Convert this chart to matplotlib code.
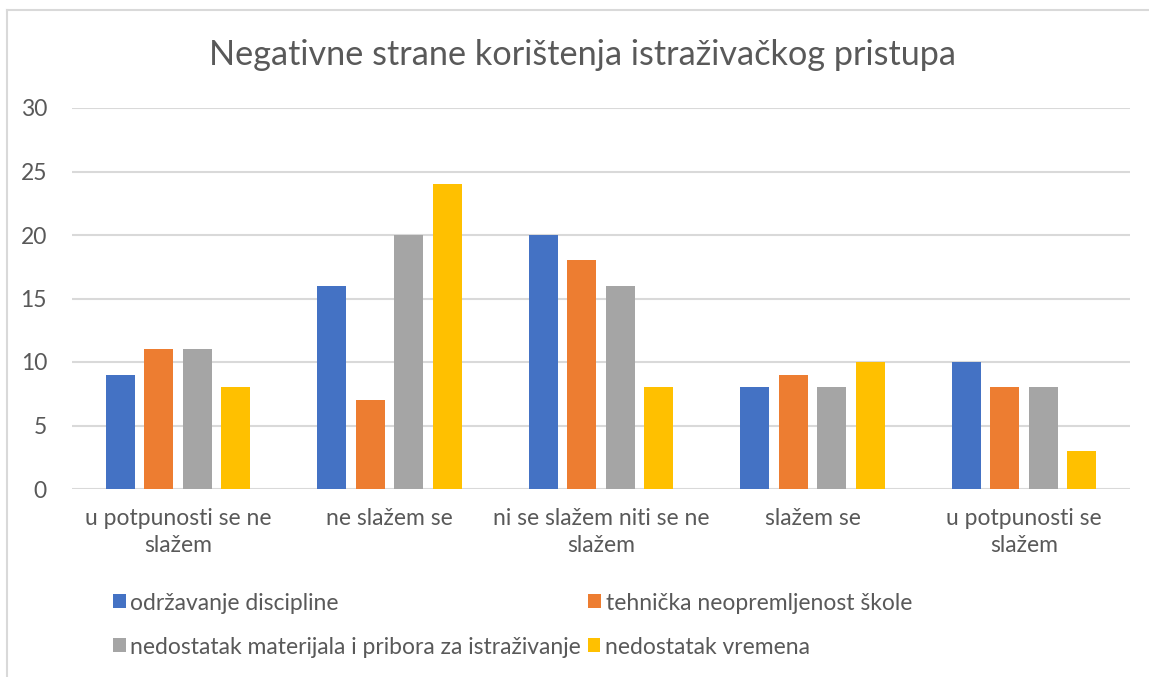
import matplotlib
matplotlib.use("Agg")
import matplotlib.pyplot as plt
from matplotlib.lines import Line2D
import numpy as np

plt.rcParams['font.family'] = ['Lato', 'DejaVu Sans']

# data
categories = ["u potpunosti se ne\nslažem", "ne slažem se",
              "ni se slažem niti se ne\nslažem", "slažem se",
              "u potpunosti se\nslažem"]
series_names = ["održavanje discipline", "tehnička neopremljenost škole",
                "nedostatak materijala i pribora za istraživanje", "nedostatak vremena"]
discipline = [9, 16, 20, 8, 10]
oprema = [11, 7, 18, 9, 8]
materijal = [11, 20, 16, 8, 8]
vrijeme = [8, 24, 8, 10, 3]
yticks = [0, 5, 10, 15, 20, 25, 30]

colors = ["#4472C4", "#ED7D31", "#A5A5A5", "#FFC000"]
text_col = "#595959"
grid_col = "#D9D9D9"
fs = 16.5

fig = plt.figure(figsize=(11.49, 6.77), dpi=100)
ax = fig.add_axes([72/1149, 1-489/677, (1130-72)/1149, (489-108)/677])

x = np.arange(len(categories))
step = 0.182  # distance between bars in a group
width = 0.137
bars = []
for i, vals in enumerate([discipline, oprema, materijal, vrijeme]):
    b = ax.bar(x + (i - 1.5) * step, vals, width, color=colors[i],
               label=series_names[i], zorder=3)
    bars.append(b)

ax.set_xlim(-0.5, len(categories) - 0.5)
ax.set_ylim(0, 30)
ax.set_yticks(yticks)
ax.yaxis.grid(True, color=grid_col, linewidth=1.5, zorder=0)
ax.set_axisbelow(True)
for s in ["top", "right", "left", "bottom"]:
    ax.spines[s].set_visible(False)
ax.tick_params(axis='both', length=0, labelsize=fs, colors=text_col)
ax.tick_params(axis='y', pad=18)
ax.tick_params(axis='x', pad=14)
ax.set_xticks(x)
ax.set_xticklabels(categories, linespacing=1.35)

fig.text(0.507, 1-55/677, "Negativne strane korištenja istraživačkog pristupa",
         ha='center', va='center', fontsize=24.7, color=text_col)

# legend, two rows like the Excel one
leg_kw = dict(frameon=False, fontsize=fs, handlelength=0.55, handleheight=0.55,
              handletextpad=0.2, labelcolor=text_col, borderaxespad=0, borderpad=0)
leg1 = fig.legend([bars[0], bars[1]], series_names[:2], ncol=2,
                  loc='center left', bbox_to_anchor=(113/1149, 1-603/677),
                  columnspacing=10.9, **leg_kw)
leg2 = fig.legend([bars[2], bars[3]], series_names[2:], ncol=2,
                  loc='center left', bbox_to_anchor=(113/1149, 1-647/677),
                  columnspacing=0.3, **leg_kw)

# chart border (left and top visible in the crop)
fig.add_artist(Line2D([7/1149, 7/1149], [0, 1-10/677], transform=fig.transFigure,
                      color=grid_col, linewidth=1.5))
fig.add_artist(Line2D([7/1149, 1], [1-10/677, 1-10/677], transform=fig.transFigure,
                      color=grid_col, linewidth=1.5))

fig.savefig("out.png", dpi=100)
